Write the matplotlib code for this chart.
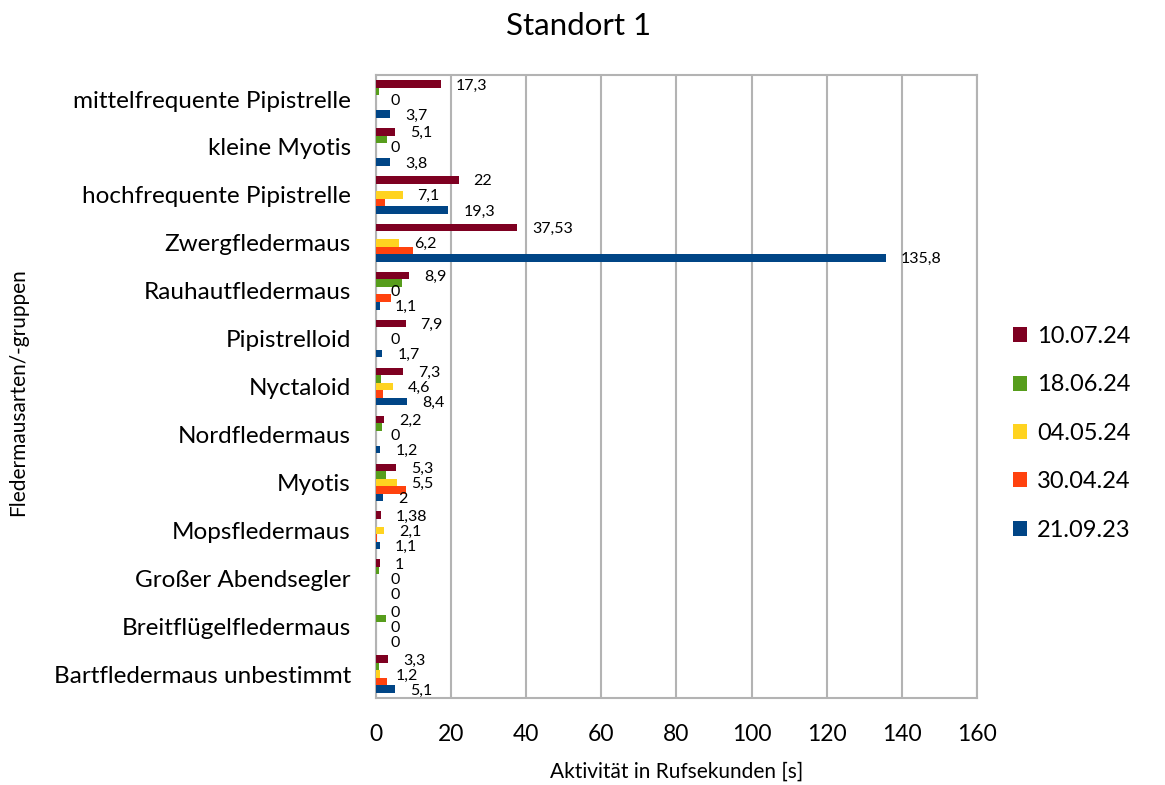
import numpy as np
import matplotlib
matplotlib.use("Agg")
import matplotlib.pyplot as plt

plt.rcParams['font.family'] = ['Lato', 'DejaVu Sans']

categories = ["mittelfrequente Pipistrelle", "kleine Myotis", "hochfrequente Pipistrelle",
              "Zwergfledermaus", "Rauhautfledermaus", "Pipistrelloid", "Nyctaloid",
              "Nordfledermaus", "Myotis", "Mopsfledermaus", "Großer Abendsegler",
              "Breitflügelfledermaus", "Bartfledermaus unbestimmt"]

# series, top bar first in each group
d_100724 = [17.3, 5.1, 22, 37.53, 8.9, 7.9, 7.3, 2.2, 5.3, 1.38, 1, 0, 3.3]
d_180624 = [0.9, 3.0, 0, 0, 6.9, 0, 1.3, 1.7, 2.6, 0, 0.8, 2.6, 0.9]
d_040524 = [0, 0, 7.1, 6.2, 0, 0, 4.6, 0, 5.5, 2.1, 0, 0, 1.2]
d_300424 = [0, 0, 2.3, 9.8, 3.9, 0, 1.8, 0, 8.1, 0.35, 0, 0, 2.9]
d_210923 = [3.7, 3.8, 19.3, 135.8, 1.1, 1.7, 8.4, 1.2, 2, 1.1, 0, 0, 5.1]

series = [("10.07.24", d_100724, "#7e0021", True),
          ("18.06.24", d_180624, "#579d1c", False),
          ("04.05.24", d_040524, "#ffd320", True),
          ("30.04.24", d_300424, "#ff420e", False),
          ("21.09.23", d_210923, "#004586", True)]

fig = plt.figure(figsize=(11.65, 7.85), dpi=100)
ax = fig.add_axes([0.3227, 0.1108, 0.5159, 0.7936])

y = np.arange(len(categories))
h = 0.157
for i, (name, vals, col, lab) in enumerate(series):
    pos = y + (i - 2) * h
    ax.barh(pos, vals, height=h, color=col, label=name, zorder=3)
    if lab:
        for p, v in zip(pos, vals):
            txt = ("%g" % v).replace(".", ",")
            ax.annotate(txt, (v, p), xytext=(15, 0), textcoords="offset pixels",
                        ha="left", va="center_baseline", fontsize=11.5, color="black")

ax.set_xlim(0, 160)
ax.set_ylim(len(categories) - 0.5, -0.5)
ax.set_xticks(np.arange(0, 161, 20))
ax.set_yticks(y)
ax.set_yticklabels(categories, fontsize=17.5)
ax.tick_params(axis="x", labelsize=16.5, length=0, pad=19)
ax.tick_params(axis="y", length=0, pad=18)
ax.grid(axis="x", color="#b3b3b3", linewidth=1.5, zorder=0)
for s in ax.spines.values():
    s.set_color("#b3b3b3")
    s.set_linewidth(1.5)

ax.set_xlabel("Aktivität in Rufsekunden [s]", fontsize=15, labelpad=12)
fig.text(18 / 1165, 0.5, "Fledermausarten/-gruppen", fontsize=15, rotation=90,
         ha="center", va="center")
fig.suptitle("Standort 1", fontsize=22.5, x=0.497, y=0.985)

leg = ax.legend(loc="center left", bbox_to_anchor=(1.025, 0.425), frameon=False,
                fontsize=17, handlelength=0.6, handleheight=0.6, labelspacing=1.16,
                handletextpad=0.4)

fig.savefig("out.png", dpi=100)
